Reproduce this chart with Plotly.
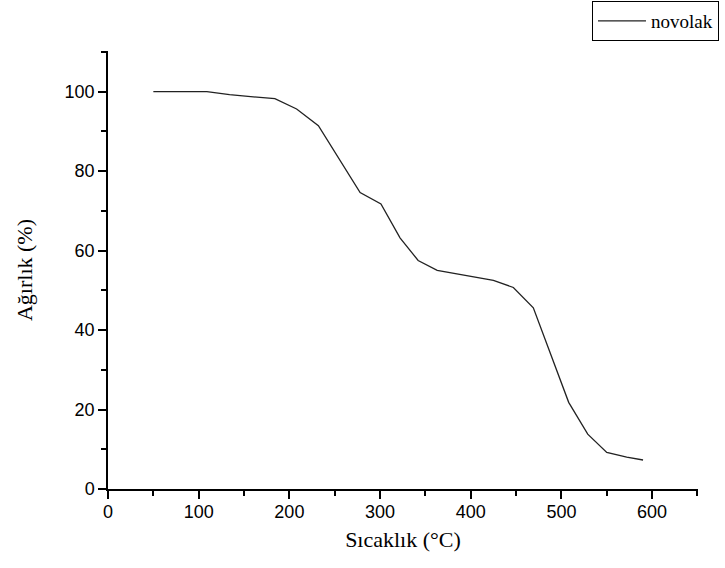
import plotly.graph_objects as go

temperature = [50, 109, 134, 184, 208, 232, 278, 301, 322, 342, 363, 387, 425, 447, 469, 508, 529, 550, 572, 590]
weight = [100.0, 100.0, 99.2, 98.2, 95.6, 91.4, 74.6, 71.7, 63.2, 57.5, 55.0, 54.0, 52.5, 50.7, 45.6, 21.8, 13.8, 9.2, 8.0, 7.3]
series_name = "novolak"

fig = go.Figure()
fig.add_trace(go.Scatter(x=temperature, y=weight, mode="lines", name=series_name,
                         line=dict(color="#222222", width=1.3)))

axis_common = dict(showline=True, linecolor="black", linewidth=1.5, ticks="outside",
                   ticklen=8, tickwidth=1.5, tickcolor="black", showgrid=False, zeroline=False,
                   tickfont=dict(family="Liberation Sans, Arial", size=18, color="black"),
                   mirror=False)

fig.update_xaxes(range=[0, 650.6], dtick=100, tick0=0, ticklabelstandoff=-2,
                 minor=dict(ticks="outside", ticklen=5, tickwidth=1.5, tickcolor="black", dtick=50, tick0=0),
                 title=dict(text="Sıcaklık (°C)", font=dict(family="Liberation Serif, Times New Roman", size=22, color="black"), standoff=10),
                 **axis_common)
fig.update_yaxes(range=[0, 110.2], dtick=20, tick0=0,
                 minor=dict(ticks="outside", ticklen=5, tickwidth=1.5, tickcolor="black", dtick=10, tick0=0),
                 title=dict(text="Ağırlık (%)", font=dict(family="Liberation Serif, Times New Roman", size=22, color="black"), standoff=26),
                 **axis_common)

fig.update_layout(
    width=725, height=568,
    margin=dict(l=108, r=27, t=51, b=79, autoexpand=False),
    plot_bgcolor="white", paper_bgcolor="white",
    showlegend=True,
    legend=dict(x=0.8203, y=1.114, xanchor="left", yanchor="top",
                bordercolor="black", borderwidth=1, bgcolor="white",
                font=dict(family="Liberation Serif, Times New Roman", size=19, color="black"),
                itemwidth=48, tracegroupgap=0),
)

fig.write_html("out.html", post_script="document.body.style.margin='0';",
               config={"displayModeBar": False})
